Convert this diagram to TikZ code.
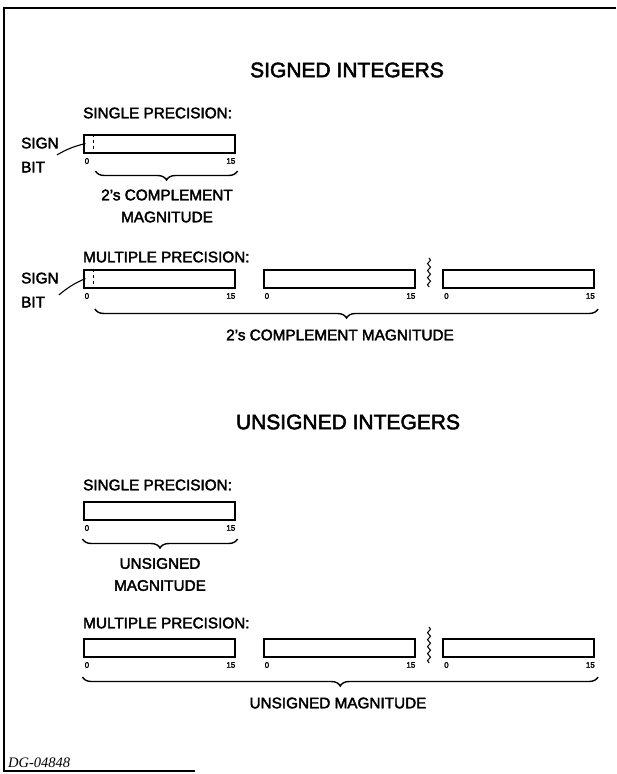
\documentclass[tikz,border=0pt]{standalone}
\usepackage{fontspec}
\setsansfont{Liberation Sans}[FakeBold=2.5]
\newfontfamily\dgfont{Liberation Serif}
\usepackage{tikz}
\usetikzlibrary{calc}
\usetikzlibrary{decorations.pathreplacing}
\usetikzlibrary{decorations.pathmorphing}

\begin{document}
\begin{tikzpicture}[x=1pt,y=-1pt,font=\sffamily\fontsize{15.3}{22}\selectfont,
	word/.style={draw,line width=2pt,minimum width=151pt,minimum height=18pt,inner sep=0pt},
	bitnum/.style={font=\sffamily\fontsize{8}{8}\selectfont,inner sep=0pt},
	heading/.style={font=\sffamily\fontsize{21}{24}\selectfont,inner sep=0pt},
	prec/.style={anchor=west,inner sep=0pt},
	signbit/.style={anchor=west,inner sep=0pt,align=left,font=\sffamily\fontsize{15.3}{24}\selectfont},
	under/.style={decorate,decoration={brace,mirror,amplitude=9pt},line width=1.4pt},
	gap/.style={decorate,decoration={snake,amplitude=1.5pt,segment length=7pt},line width=1pt}]
	\useasboundingbox (0,0) rectangle (616,774);
	\draw[line width=1.6pt] (616,8) -- (4,8) -- (4,771) -- (195,771);

	\node[heading] (signed) at (347,70) {SIGNED INTEGERS};
	\node[prec] (sp1) at (83,113) {SINGLE PRECISION:};
	\node[word] (s1) at (159,143.5) {};
	\draw[dashed,line width=0.9pt] ([xshift=11]s1.north west) -- ([xshift=11]s1.south west);
	\node[bitnum,anchor=north west] (s1lo) at ([shift={(2,4.5)}]s1.south west) {0};
	\node[bitnum,anchor=north east] (s1hi) at ([shift={(0,4.5)}]s1.south east) {15};
	\node[signbit] (sb1) at (21,155) {SIGN\\BIT};
	\coordinate (s1bit) at ([xshift=3]s1.west);
	\draw[line width=1.1pt] ([shift={(-2,0)}]sb1.east) to[bend left=8] (s1bit);
	\draw[under] ([shift={(13,17.5)}]s1.south west) -- ([shift={(2,17.5)}]s1.south east);
	\node[align=center] (cm1) at (167,206) {2’s COMPLEMENT\\MAGNITUDE};

	\node[prec] (mp1) at (83,257) {MULTIPLE PRECISION:};
	\node[word] (m1) at (159,278.5) {};
	\node[word] (m2) at (339,278.5) {};
	\node[word] (m3) at (518.5,278.5) {};
	\draw[dashed,line width=0.9pt] ([xshift=11]m1.north west) -- ([xshift=11]m1.south west);
	\node[bitnum,anchor=north west] (m1lo) at ([shift={(2,4.5)}]m1.south west) {0};
	\node[bitnum,anchor=north east] (m1hi) at ([shift={(0,4.5)}]m1.south east) {15};
	\node[bitnum,anchor=north west] (m2lo) at ([shift={(2,4.5)}]m2.south west) {0};
	\node[bitnum,anchor=north east] (m2hi) at ([shift={(0,4.5)}]m2.south east) {15};
	\node[bitnum,anchor=north west] (m3lo) at ([shift={(2,4.5)}]m3.south west) {0};
	\node[bitnum,anchor=north east] (m3hi) at ([shift={(0,4.5)}]m3.south east) {15};
	\draw[gap] (429,258) -- (429,287);
	\node[signbit] (sb2) at (21,290) {SIGN\\BIT};
	\coordinate (m1bit) at ([xshift=3]m1.west);
	\draw[line width=1.1pt] ([shift={(0,5)}]sb2.east) to[bend left=8] (m1bit);
	\draw[under] ([shift={(12.5,20.5)}]m1.south west) -- ([shift={(3,20.5)}]m3.south east);
	\node (cm2) at (340,335) {2’s COMPLEMENT MAGNITUDE};

	\node[heading] (unsigned) at (348,422) {UNSIGNED INTEGERS};
	\node[prec] (sp2) at (83,485) {SINGLE PRECISION:};
	\node[word] (u1) at (159,510.5) {};
	\node[bitnum,anchor=north west] (u1lo) at ([shift={(2,4.5)}]u1.south west) {0};
	\node[bitnum,anchor=north east] (u1hi) at ([shift={(0,4.5)}]u1.south east) {15};
	\draw[under] ([shift={(0,18.5)}]u1.south west) -- ([shift={(2,18.5)}]u1.south east);
	\node[align=center] (um1) at (160,574.5) {UNSIGNED\\MAGNITUDE};

	\node[prec] (mp2) at (83,623) {MULTIPLE PRECISION:};
	\node[word] (n1) at (159,647.5) {};
	\node[word] (n2) at (339,647.5) {};
	\node[word] (n3) at (518.5,647.5) {};
	\node[bitnum,anchor=north west] (n1lo) at ([shift={(2,4.5)}]n1.south west) {0};
	\node[bitnum,anchor=north east] (n1hi) at ([shift={(0,4.5)}]n1.south east) {15};
	\node[bitnum,anchor=north west] (n2lo) at ([shift={(2,4.5)}]n2.south west) {0};
	\node[bitnum,anchor=north east] (n2hi) at ([shift={(0,4.5)}]n2.south east) {15};
	\node[bitnum,anchor=north west] (n3lo) at ([shift={(2,4.5)}]n3.south west) {0};
	\node[bitnum,anchor=north east] (n3hi) at ([shift={(0,4.5)}]n3.south east) {15};
	\draw[gap] (429,627) -- (429,663);
	\draw[under] ([shift={(0,19.5)}]n1.south west) -- ([shift={(3,19.5)}]n3.south east);
	\node (um2) at (338,703) {UNSIGNED MAGNITUDE};

	\node[anchor=west,inner sep=0pt,font=\dgfont\itshape\fontsize{14.5}{16}\selectfont] (dg) at (8,763) {DG-04848};
\end{tikzpicture}
\end{document}
